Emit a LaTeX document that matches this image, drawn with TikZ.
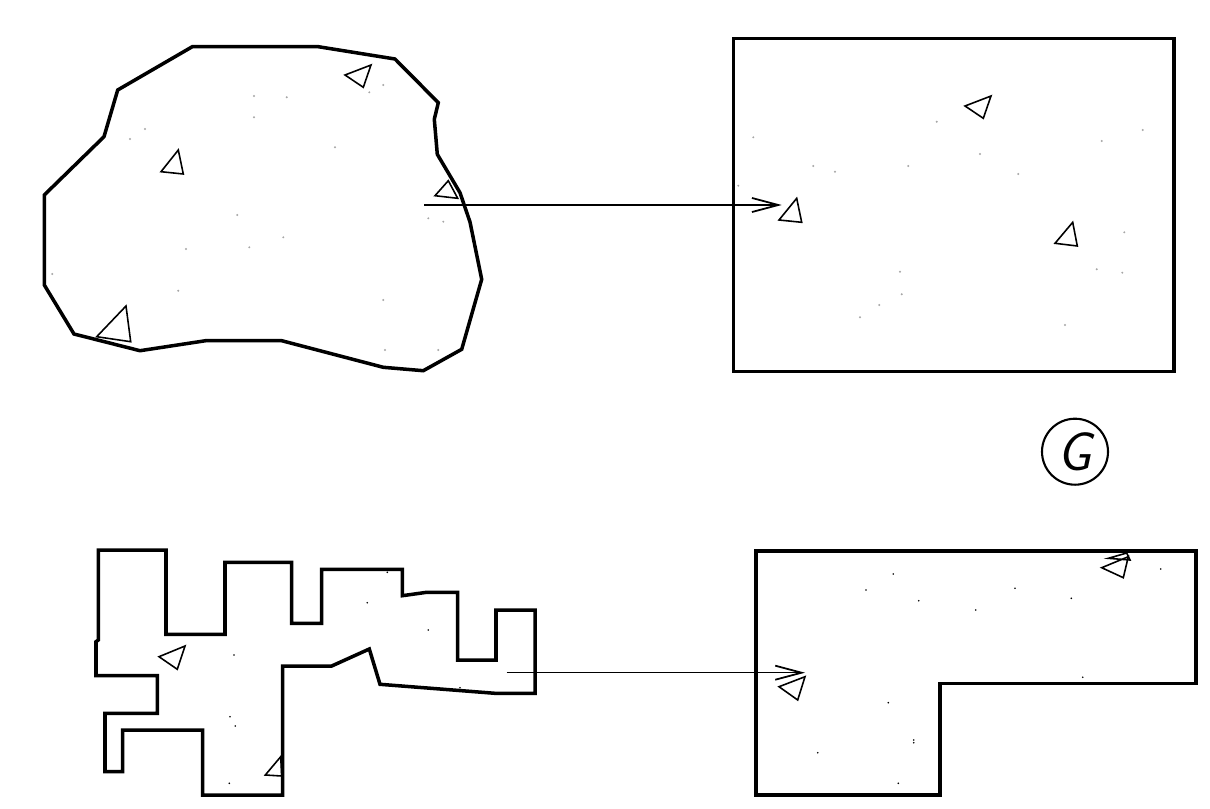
\documentclass[tikz,border=0pt]{standalone}
\usetikzlibrary{arrows.meta}
\begin{document}
\begin{tikzpicture}[x=0.02cm,y=-0.02cm,
  outline/.style={line width=2pt,line join=miter},
  tri/.style={line width=0.9pt,line join=miter},
  conn/.style={line width=0.8pt,-{Straight Barb[length=15pt,width=8pt,line width=1pt]}},
  gdot/.style={fill=black!35,draw=none},
  bdot/.style={fill=black,draw=none}]
\useasboundingbox[fill=white] (0,0) rectangle (1210,808);

% ---------- top-left blob ----------
\draw[outline] (192.3,46.7) -- (318.3,46.7) -- (395,59) -- (438.3,102.7) -- (434.3,119.3)
  -- (437.3,154.3) -- (460,192.7) -- (470,222) -- (481.7,279.3) -- (461.7,349.3)
  -- (423.3,370.7) -- (383.3,367.3) -- (281.7,340.7) -- (205.7,340.7) -- (140,350.7)
  -- (74,334) -- (44.3,285) -- (44.3,195) -- (104,136.7) -- (117.7,90) -- cycle;
\draw[tri] (345,75) -- (371,65) -- (363.3,87.3) -- cycle;
\draw[tri] (161,171.7) -- (178.3,150) -- (183.3,174) -- cycle;
\draw[tri] (435,195.7) -- (448.3,180.7) -- (457.7,198.3) -- cycle;
\draw[tri] (96.7,336.7) -- (126,306) -- (130.7,341.7) -- cycle;
\foreach \p in {(254,96),(286.7,97.3),(254,117.3),(145,129),(130,139),(335,147.3),(383.3,85),(369.3,92.3),(237.3,215),(283.3,237.3),(249.3,247.3),(186,249),(52.3,274),(178.3,290.7),(383.3,300),(428.3,218.3),(443.3,221.7),(385,350),(438.3,350)}
  \fill[gdot] \p circle (1.1);

% ---------- top-right rectangle ----------
\draw[outline] (733.3,38.3) rectangle (1174,371.7);
\draw[tri] (965,106) -- (991,96) -- (983.3,118.3) -- cycle;
\draw[tri] (779,220) -- (796.7,198.3) -- (801.7,222.3) -- cycle;
\draw[tri] (1055,243.3) -- (1072.7,222.3) -- (1077.3,246) -- cycle;
\foreach \p in {(753.3,137.3),(813.3,166),(835,171.7),(908.3,166),(936.7,121.7),(980,154),(1018.3,174),(1101.7,141),(1142.7,130),(1124.3,232.3),(1096.7,269.3),(1122.3,272.7),(900,271.7),(901.7,294.3),(879.3,305),(860,317.3),(1065,325),(738.3,185.7)}
  \fill[gdot] \p circle (1.1);

\coordinate (a1s) at (424.3,205);
\coordinate (a1e) at (781.7,205);
\draw[conn] (a1s) -- (a1e);

% ---------- G symbol ----------
\node[circle,draw,line width=1.2pt,minimum size=66*0.02cm,inner sep=0pt] (g) at (1075,451.7)
  {\fontsize{31}{31}\selectfont\sffamily\itshape G};

% ---------- bottom-left polygon ----------
\draw[outline] (98.3,550) -- (166,550) -- (166,634.3) -- (225,634.3) -- (225,562.3)
  -- (291.7,562.3) -- (291.7,623.3) -- (321.7,623.3) -- (321.7,569.3) -- (402.3,569.3)
  -- (402.3,595.7) -- (426.7,592.3) -- (457.7,592.3) -- (457.7,660) -- (496,660)
  -- (496,610) -- (535,610) -- (535,693.3) -- (495,693.3) -- (380,684.3) -- (369.3,649)
  -- (331.7,666) -- (282.7,666) -- (282.7,795) -- (202.7,795) -- (202.7,730)
  -- (122.7,730) -- (122.7,771.7) -- (105,771.7) -- (105,713.3) -- (157.3,713.3)
  -- (157.3,675.7) -- (96,675.7) -- (96,641.7) -- (98.3,640) -- cycle;
\draw[tri] (159,656.7) -- (185,646) -- (177.3,669.3) -- cycle;
\draw[tri] (265.3,775) -- (280.7,756.7) -- (281.7,776) -- cycle;
\foreach \p in {(234,655),(367.3,602.7),(428.3,630),(387.3,572.3),(230,716.7),(235.3,726),(229.3,783.3),(460,687.7)}
  \fill[bdot] \p circle (0.9);

% ---------- bottom-right L shape ----------
\draw[outline] (756,551) -- (1196,551) -- (1196,683.3) -- (940,683.3) -- (940,795)
  -- (756,795) -- cycle;
\draw[tri] (779,686.7) -- (805,676.7) -- (797.7,700) -- cycle;
\draw[tri] (1101.7,567.7) -- (1128.3,556.7) -- (1123.3,577.7) -- cycle;
\draw[tri] (1108.3,558.3) -- (1126.7,553) -- (1130,560) -- cycle;
\foreach \p in {(893.3,574),(866,590),(918.7,600.7),(975.7,610),(1015,588.3),(1071.3,598.3),(1160.7,569),(1082.7,677.3),(888.3,702.7),(913.7,740),(913.7,742.7),(817.7,752.7),(898.3,783.3)}
  \fill[bdot] \p circle (0.9);

\coordinate (a2s) at (506.7,672.7);
\coordinate (a2e) at (805,672.7);
\draw[conn] (a2s) -- (a2e);
\end{tikzpicture}
\end{document}
